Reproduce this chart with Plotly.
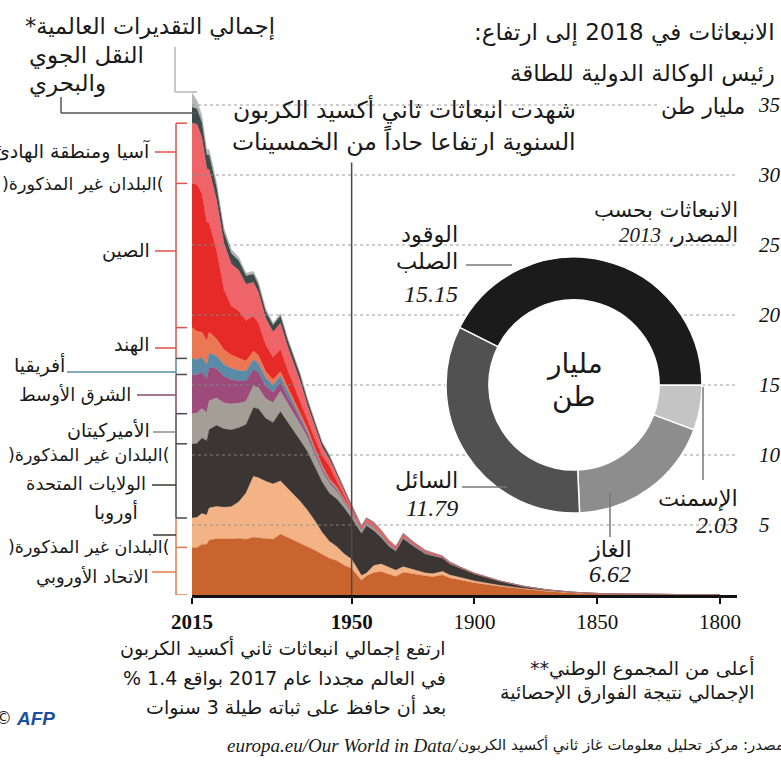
import plotly.graph_objects as go

# ---------------- data ----------------
years = [1800, 1820, 1840, 1850, 1860, 1870, 1880, 1890, 1900, 1905, 1910, 1913, 1917, 1920,
         1925, 1929, 1932, 1935, 1938, 1941, 1944, 1946, 1950, 1953, 1956, 1959, 1962, 1965,
         1968, 1971, 1974, 1976, 1979, 1982, 1985, 1988, 1990, 1993, 1996, 1999, 2002, 2005,
         2008, 2009, 2011, 2013, 2015]

eu = [0.01, 0.02, 0.05, 0.08, 0.14, 0.25, 0.42, 0.62, 0.88, 1.05, 1.22, 1.42, 1.3, 1.38,
      1.5, 1.62, 1.32, 1.5, 1.66, 1.6, 1.35, 1.05, 1.9, 2.12, 2.45, 2.62, 2.92, 3.2,
      3.45, 3.7, 3.92, 4.08, 4.35, 3.98, 4.02, 4.08, 4.12, 3.98, 4.05, 4.0, 4.02, 4.02,
      3.92, 3.62, 3.62, 3.38, 3.4]
europe_other = [0.0, 0.0, 0.01, 0.01, 0.02, 0.03, 0.05, 0.08, 0.12, 0.15, 0.2, 0.25, 0.22, 0.2,
                0.3, 0.4, 0.45, 0.5, 0.55, 0.5, 0.2, 0.35, 0.65, 0.8, 1.0, 1.2, 1.55, 2.1,
                2.6, 3.0, 3.3, 3.5, 3.8, 3.95, 4.1, 4.3, 4.35, 3.3, 2.6, 2.3, 2.25, 2.3,
                2.3, 2.1, 2.2, 2.15, 2.1]
usa = [0.0, 0.0, 0.01, 0.02, 0.04, 0.08, 0.15, 0.3, 0.5, 0.65, 0.8, 0.95, 1.3, 1.35,
       1.7, 2.0, 1.35, 1.5, 1.9, 2.5, 3.4, 3.0, 2.95, 3.3, 3.4, 3.45, 3.6, 3.85,
       4.2, 4.35, 4.6, 4.7, 4.95, 4.4, 4.5, 4.95, 4.9, 4.9, 5.3, 5.5, 5.6, 5.8,
       5.6, 5.3, 5.4, 5.3, 5.3]
americas_other = [0.0, 0.0, 0.0, 0.0, 0.0, 0.0, 0.0, 0.01, 0.02, 0.03, 0.04, 0.05, 0.06, 0.08,
                  0.1, 0.12, 0.1, 0.12, 0.15, 0.17, 0.18, 0.2, 0.28, 0.4, 0.55, 0.65, 0.75, 0.85,
                  1.0, 1.15, 1.3, 1.35, 1.45, 1.4, 1.4, 1.5, 1.55, 1.65, 1.75, 1.85, 1.85, 1.95,
                  2.05, 2.0, 2.1, 2.15, 2.15]
middle_east = [0.0, 0.0, 0.0, 0.0, 0.0, 0.0, 0.0, 0.0, 0.0, 0.0, 0.0, 0.0, 0.0, 0.0,
               0.0, 0.01, 0.01, 0.02, 0.02, 0.03, 0.03, 0.04, 0.06, 0.08, 0.1, 0.13, 0.17, 0.22,
               0.28, 0.35, 0.45, 0.5, 0.65, 0.75, 0.9, 1.1, 1.2, 1.45, 1.6, 1.75, 1.9, 2.1,
               2.4, 2.45, 2.6, 2.75, 2.8]
africa = [0.0, 0.0, 0.0, 0.0, 0.0, 0.0, 0.0, 0.0, 0.01, 0.01, 0.02, 0.02, 0.02, 0.02,
          0.03, 0.03, 0.03, 0.03, 0.04, 0.04, 0.04, 0.05, 0.07, 0.08, 0.1, 0.11, 0.13, 0.15,
          0.18, 0.23, 0.3, 0.35, 0.45, 0.52, 0.6, 0.65, 0.7, 0.72, 0.75, 0.8, 0.85, 0.92,
          1.0, 1.02, 1.05, 1.1, 1.15]
india = [0.0, 0.0, 0.0, 0.0, 0.0, 0.0, 0.0, 0.005, 0.01, 0.015, 0.02, 0.02, 0.025, 0.025,
         0.03, 0.03, 0.03, 0.035, 0.04, 0.05, 0.05, 0.05, 0.07, 0.08, 0.1, 0.12, 0.13, 0.15,
         0.17, 0.2, 0.23, 0.26, 0.3, 0.38, 0.45, 0.55, 0.6, 0.7, 0.85, 0.95, 1.05, 1.2,
         1.5, 1.65, 1.8, 2.0, 2.2]
china = [0.0, 0.0, 0.0, 0.0, 0.0, 0.0, 0.0, 0.0, 0.01, 0.01, 0.015, 0.02, 0.02, 0.02,
         0.025, 0.03, 0.035, 0.05, 0.05, 0.07, 0.06, 0.05, 0.08, 0.2, 0.4, 0.9, 0.7, 0.65,
         0.6, 0.95, 1.1, 1.3, 1.6, 1.6, 1.9, 2.3, 2.5, 2.9, 3.4, 3.5, 4.3, 6.3,
         7.8, 8.5, 9.9, 10.5, 10.3]
asia_other = [0.0, 0.0, 0.0, 0.0, 0.0, 0.0, 0.0, 0.01, 0.02, 0.03, 0.05, 0.06, 0.08, 0.09,
              0.1, 0.12, 0.12, 0.15, 0.18, 0.2, 0.15, 0.08, 0.2, 0.3, 0.4, 0.5, 0.6, 0.8,
              1.05, 1.35, 1.55, 1.65, 1.85, 1.8, 1.9, 2.2, 2.4, 2.6, 2.9, 3.0, 3.3, 3.6,
              3.8, 3.8, 4.0, 4.3, 4.3]
air_sea = [0.0, 0.0, 0.0, 0.0, 0.0, 0.0, 0.0, 0.0, 0.0, 0.0, 0.0, 0.0, 0.02, 0.03,
           0.04, 0.05, 0.04, 0.05, 0.05, 0.05, 0.05, 0.08, 0.15, 0.18, 0.22, 0.25, 0.3, 0.35,
           0.4, 0.45, 0.5, 0.5, 0.55, 0.5, 0.5, 0.55, 0.6, 0.6, 0.7, 0.75, 0.8, 0.95,
           1.05, 1.0, 1.1, 1.1, 1.15]
global_est = [0.0, 0.0, 0.0, 0.0, 0.0, 0.0, 0.0, 0.0, 0.0, 0.0, 0.0, 0.0, 0.0, 0.0,
              0.0, 0.0, 0.0, 0.0, 0.0, 0.0, 0.0, 0.02, 0.05, 0.05, 0.05, 0.08, 0.1, 0.1,
              0.12, 0.15, 0.15, 0.15, 0.15, 0.15, 0.2, 0.2, 0.2, 0.2, 0.25, 0.3, 0.3, 0.35,
              0.4, 0.4, 0.5, 0.6, 1.0]

series_names = ["الاتحاد الأوروبي", "أوروبا (البلدان غير المذكورة)", "الولايات المتحدة",
                "الأميركيتان (البلدان غير المذكورة)", "الشرق الأوسط", "أفريقيا", "الهند", "الصين",
                "آسيا ومنطقة الهادئ (البلدان غير المذكورة)", "النقل الجوي والبحري",
                "إجمالي التقديرات العالمية"]
series_values = [eu, europe_other, usa, americas_other, middle_east, africa, india, china,
                 asia_other, air_sea, global_est]
series_colors = ["#c9642f", "#f3b385", "#3b3633", "#a39e96", "#9c4b7b", "#5a8aa5", "#eb7753",
                 "#e52a28", "#ee6468", "#3e4b4b", "#b6b6b6"]

donut_labels = ["الوقود الصلب", "السائل", "الغاز", "الإسمنت"]
donut_values = [15.15, 11.79, 6.62, 2.03]
donut_colors = ["#1b1b1b", "#515151", "#8d8d8d", "#c4c4c4"]

x_ticks = [2015, 1950, 1900, 1850, 1800]
x_ticktext = ["<b>2015</b>", "<b>1950</b>", "1900", "1850", "1800"]
y_ticks = [5, 10, 15, 20, 25, 30, 35]

# ---------------- layout geometry ----------------
FIG_W, FIG_H = 781, 760
ML, MR, MT, MB = 192, 44, 77, 165
PW = FIG_W - ML - MR
PH = FIG_H - MT - MB
X_RANGE = [2015, 1793.1]
Y_RANGE = [0, 37]

ARABIC = "DejaVu Sans"
SERIF = "Liberation Serif"
RLM = "\u200f"


def px(x):
    return (x - ML) / PW


def py(y):
    return (FIG_H - MB - y) / PH


fig = go.Figure()

# stacked areas
for name, vals, col in zip(series_names, series_values, series_colors):
    fig.add_trace(go.Scatter(
        x=years, y=vals, name=name, stackgroup="one", mode="lines",
        line=dict(width=0.4, color=col), fillcolor=col, hoverinfo="skip"))

# dotted grid lines drawn above the areas
for v in y_ticks:
    fig.add_trace(go.Scatter(
        x=X_RANGE, y=[v, v], mode="lines", hoverinfo="skip", showlegend=False,
        line=dict(color="rgba(140,140,140,0.85)", width=1, dash="dot")))

# white disc under the donut (hides grid inside the hole)
dom_x = [px(446), px(702)]
dom_y = [py(513), py(257)]
fig.add_trace(go.Pie(values=[1], marker=dict(colors=["white"]), textinfo="none",
                     hoverinfo="skip", domain=dict(x=dom_x, y=dom_y), sort=False,
                     showlegend=False))
# slices listed from cement back to solid fuel so that, drawn clockwise from 3 o'clock,
# solid fuel runs counter-clockwise from 3 o'clock over the top as in the original
fig.add_trace(go.Pie(labels=donut_labels[::-1], values=donut_values[::-1], hole=0.665,
                     sort=False, direction="clockwise", rotation=90, textinfo="none",
                     hoverinfo="skip", showlegend=False,
                     marker=dict(colors=donut_colors[::-1], line=dict(color="white", width=1.5)),
                     domain=dict(x=dom_x, y=dom_y)))

shapes = []
# 1950 vertical marker
shapes.append(dict(type="line", xref="x", yref="y", x0=1950, x1=1950, y0=0, y1=30.9,
                   line=dict(color="#4a4a4a", width=1.5), layer="above"))


def seg(x0, y0, x1, y1, color, w=1.5):
    shapes.append(dict(type="line", xref="paper", yref="paper", x0=px(x0), y0=py(y0),
                       x1=px(x1), y1=py(y1), line=dict(color=color, width=w)))


# connectors for top two series
seg(175, 47, 175, 92, "#b4b4b4")
seg(175, 92, 197, 92, "#b4b4b4")
seg(61, 97, 61, 113, "#555555")
seg(61, 113, 197, 113, "#555555")

# brackets driven by the 2015 stack boundaries
last = [vals[-1] for vals in series_values]
cum = []
s = 0
for v in last:
    s += v
    cum.append(s)
groups = [
    (0.0, cum[1], "#e07a48"),          # Europe
    (cum[1], cum[3], "#4a4a4a"),       # Americas
    (cum[3], cum[4], "#7d4a68"),       # Middle East
    (cum[4], cum[5], "#5a8aa5"),       # Africa
    (cum[5], cum[8], "#e2504c"),       # Asia
]
BX = px(176)
TX = px(187)
for lo, hi, col in groups:
    shapes.append(dict(type="line", xref="paper", yref="y", x0=BX, x1=BX, y0=lo, y1=hi,
                       line=dict(color=col, width=1.5)))
tick_levels = [0.0, cum[0], cum[1], cum[2], cum[3], cum[4], cum[5], cum[6], cum[7], cum[8]]
tick_cols = ["#e07a48", "#e07a48", "#4a4a4a", "#4a4a4a", "#4a4a4a", "#4a4a4a", "#4a4a4a",
             "#e2504c", "#e2504c", "#e2504c"]
for lvl, col in zip(tick_levels, tick_cols):
    shapes.append(dict(type="line", xref="paper", yref="y", x0=BX, x1=TX, y0=lvl, y1=lvl,
                       line=dict(color=col, width=1.5)))

# label connector lines
seg(155, 152, 176, 152, "#e2504c")
seg(155, 251, 176, 251, "#e2504c")
seg(155, 348, 176, 348, "#e2504c")
seg(67, 372, 176, 372, "#5a8aa5")
seg(137, 395, 176, 395, "#8a4a70")
seg(153, 432, 176, 432, "#8f8a84")
seg(152, 485, 176, 485, "#3b3633")
seg(153, 535, 176, 535, "#3b3633")
seg(152, 572, 176, 572, "#e07a48")

# donut leader lines
seg(466, 265, 512, 265, "#777777")
seg(462, 487, 507, 487, "#777777")
seg(610, 493, 610, 537, "#777777")
seg(703, 387, 703, 480, "#777777")

annotations = []


def ann(text, x, y, anchor="right", size=18, color="#1a1a1a", family=ARABIC, bg=None):
    d = dict(text=text, xref="paper", yref="paper", x=px(x), y=py(y), xanchor=anchor,
             yanchor="middle", showarrow=False, font=dict(size=size, color=color, family=family),
             align=anchor if anchor != "center" else "center")
    if bg:
        d["bgcolor"] = bg
    annotations.append(d)


# header
ann(RLM + "الانبعاثات في 2018 إلى ارتفاع:" + RLM, 777, 32, size=23)
ann("رئيس الوكالة الدولية للطاقة", 777, 73, size=23)
ann("مليار طن", 747, 106, size=22, bg="white")

# top-left
ann(RLM + "إجمالي التقديرات العالمية*" + RLM, 277, 27, size=22.5)
ann("النقل الجوي", 27, 56, anchor="left", size=23)
ann("والبحري", 27, 84, anchor="left", size=23)

# chart annotation
ann("شهدت انبعاثات ثاني أكسيد الكربون", 578, 109, size=23.5)
ann("السنوية ارتفاعا حاداً من الخمسينات", 578, 140, size=23.5)

# left legend
ann("آسيا ومنطقة الهادئ", 152, 151, size=19)
ann(")البلدان غير المذكورة(", 166, 184, size=17.5)
ann("الصين", 152, 250, size=19)
ann("الهند", 152, 344, size=19)
ann("أفريقيا", 67, 365, size=19)
ann("الشرق الأوسط", 133, 395, size=18)
ann("الأميركيتان", 152, 430, size=19)
ann(")البلدان غير المذكورة(", 172, 455, size=17.5)
ann("الولايات المتحدة", 148, 484, size=18)
ann("أوروبا", 140, 512, size=19)
ann(")البلدان غير المذكورة(", 172, 547, size=17.5)
ann("الاتحاد الأوروبي", 150, 577, size=18)

# donut annotations
ann("الانبعاثات بحسب", 740, 210, size=21)
ann(RLM + "المصدر، <i><span style='font-family:Liberation Serif'>2013</span></i>" + RLM, 740, 235, size=21)
ann("الوقود", 460, 235, size=22.5)
ann("الصلب", 460, 261, size=22.5)
ann("<i>15.15</i>", 460, 294, size=24, family=SERIF)
ann("السائل", 460, 480, size=22.5)
ann("<i>11.79</i>", 460, 508, size=24, family=SERIF)
ann("الغاز", 610, 549, anchor="center", size=22.5)
ann("<i>6.62</i>", 610, 574, anchor="center", size=24, family=SERIF)
ann("الإسمنت", 740, 498, size=22.5)
ann("<i>2.03</i>", 740, 525, size=24, family=SERIF)
ann("مليار", 574, 363, anchor="center", size=28)
ann("طن", 574, 396, anchor="center", size=28)

# footer
ann("ارتفع إجمالي انبعاثات ثاني أكسيد الكربون", 448, 648, size=19)
ann(RLM + "في العالم مجددا عام 2017 بواقع 1.4 %" + RLM, 448, 678, size=19)
ann("بعد أن حافظ على ثباته طيلة 3 سنوات", 448, 707, size=19)
ann(RLM + "أعلى من المجموع الوطني**" + RLM, 757, 668, size=19)
ann("الإجمالي نتيجة الفوارق الإحصائية", 757, 692, size=19)

ann("<i>europa.eu/Our World in Data/</i>", 460, 745, size=19, family=SERIF)
ann(RLM + "المصدر: مركز تحليل معلومات غاز ثاني أكسيد الكربون" + RLM, 796, 745, size=15)
ann("©", 3, 718, anchor="center", size=17, family="DejaVu Sans")
ann("<b><i>AFP</i></b>", 14, 718, anchor="left", size=19, color="#1d4fa0", family="Liberation Sans")

fig.update_layout(
    width=FIG_W, height=FIG_H,
    margin=dict(l=ML, r=MR, t=MT, b=MB, pad=0, autoexpand=False),
    paper_bgcolor="white", plot_bgcolor="white",
    showlegend=False,
    shapes=shapes,
    annotations=annotations,
    xaxis=dict(range=X_RANGE, tickvals=x_ticks, ticktext=x_ticktext, showgrid=False,
               zeroline=False, showline=True, linecolor="#111111", linewidth=2.5,
               ticks="outside", ticklen=6, tickwidth=1.5, tickcolor="#111111", automargin=False,
               tickfont=dict(family=SERIF, size=21, color="#111111")),
    yaxis=dict(range=Y_RANGE, tickvals=y_ticks, ticktext=["<i>%d</i>" % v for v in y_ticks],
               side="right", showgrid=False, zeroline=False, showline=False, ticks="",
               ticklabelstandoff=21, automargin=False,
               tickfont=dict(family=SERIF, size=21, color="#111111")),
)

fig.write_html("out.html", config={"displayModeBar": False},
               post_script="document.body.style.margin='0px';")
